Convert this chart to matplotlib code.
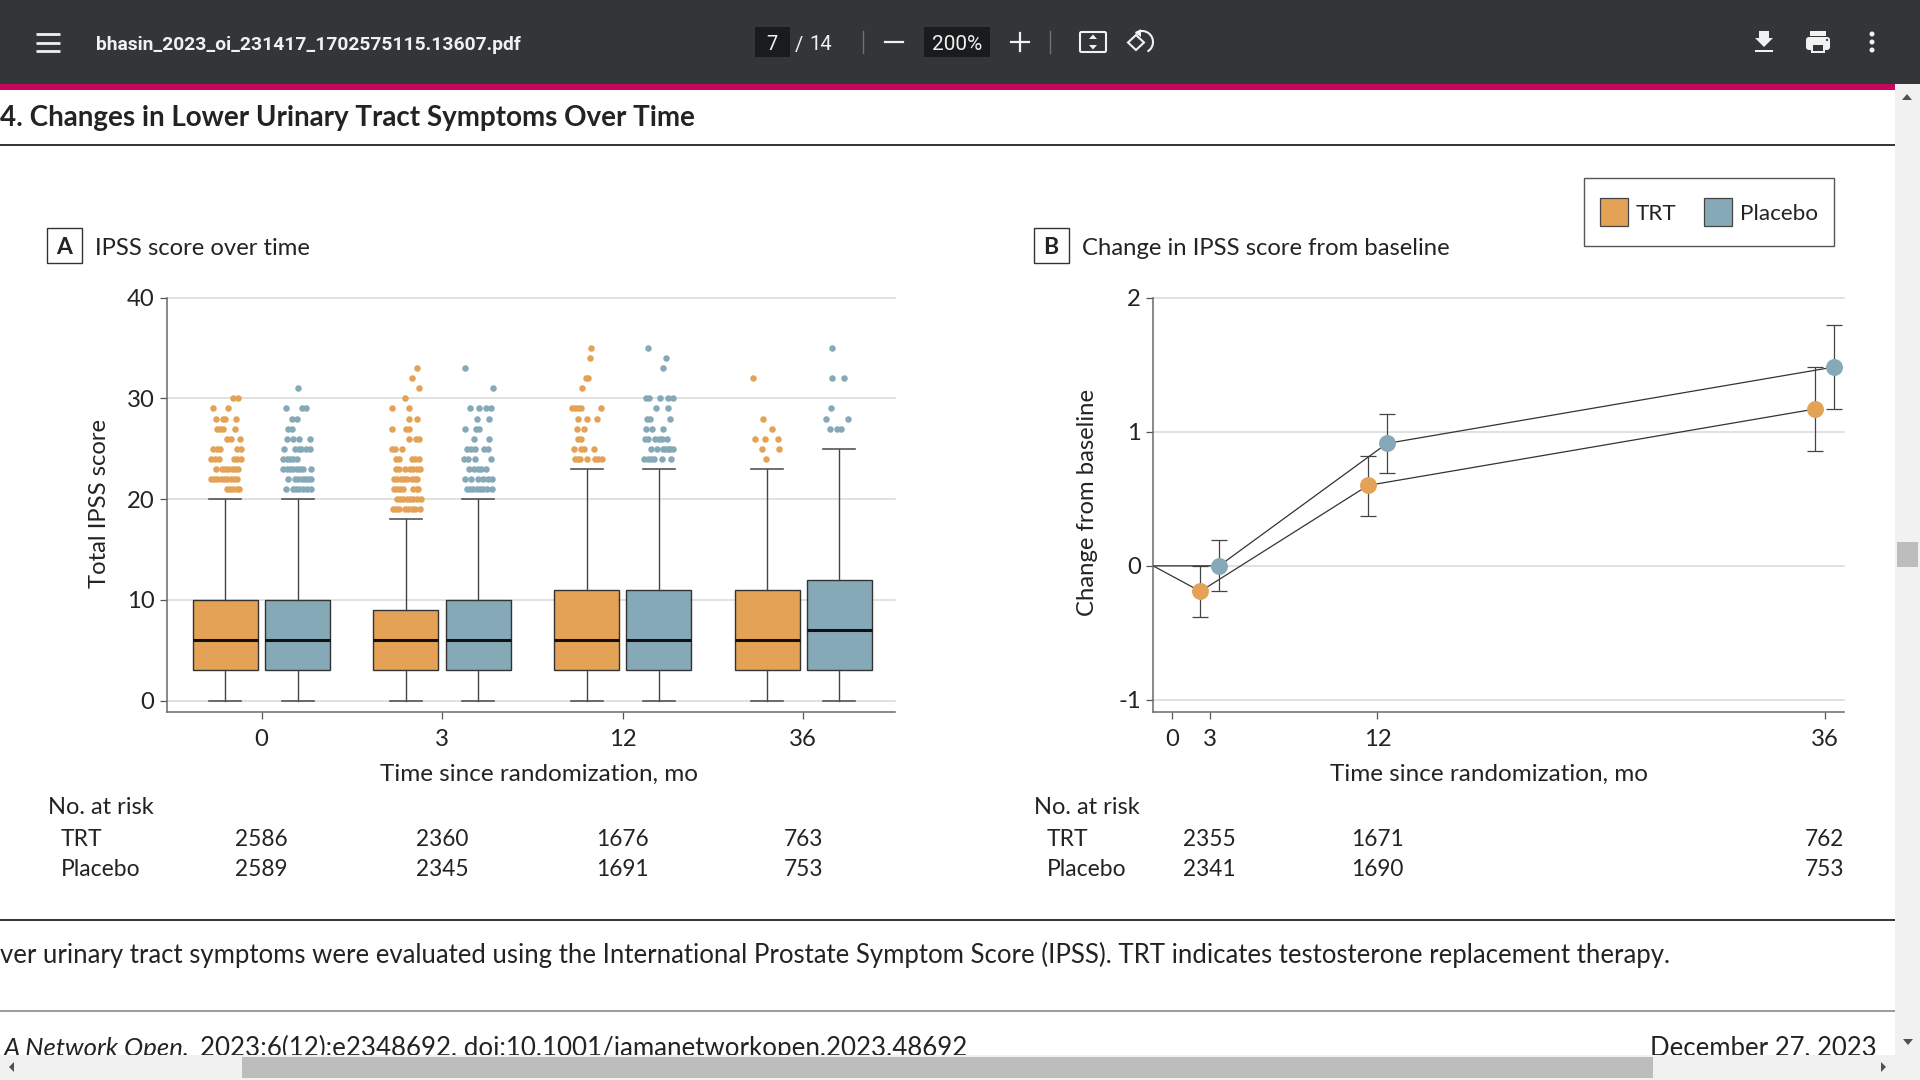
import matplotlib
matplotlib.use('Agg')
import matplotlib.pyplot as plt
from matplotlib.patches import Rectangle, Circle, Polygon, FancyBboxPatch, Arc
from matplotlib.transforms import blended_transform_factory

plt.rcParams['font.family'] = ['Lato', 'DejaVu Sans']
plt.rcParams['axes.unicode_minus'] = False

ORANGE = '#E3A255'
BLUE = '#86A9B8'
DARK = '#232323'
W, H = 1920, 1080

visits = ['0', '3', '12', '36']
groups = ['TRT', 'Placebo']

# q1, median, q3, low whisker, high whisker per visit
trt_box = [(3, 6, 10, 0, 20), (3, 6, 9, 0, 18), (3, 6, 11, 0, 23), (3, 6, 11, 0, 23)]
pbo_box = [(3, 6, 10, 0, 20), (3, 6, 10, 0, 20), (3, 6, 11, 0, 23), (3, 7, 12, 0, 25)]

# outliers: score -> sideways jitter (in 1/542 of a visit slot)
trt_0 = {30: [22, 39], 29: [-36, 9], 28: [-27, -8, 0, 33], 27: [-24, -16, -8, 29], 26: [4, 18, 44],
         25: [-36, -26, -16, 34, 46], 24: [-42, -32, -18, 26, 36, 46],
         23: [-28, -11, -1, 9, 19, 29, 39], 22: [-44, -34, -24, -14, -4, 6, 16, 26, 36],
         21: [4, 14, 24, 34, 42]}
pbo_0 = {31: [1], 29: [-35, 12, 25], 28: [-17, -1], 27: [-29, -18], 26: [-32, -13, 4, 38],
         25: [-41, -7, 3, 11, 25, 37], 24: [-43, -33, -23, -13, -1],
         23: [-43, -33, -23, -13, -3, 7, 17, 39], 22: [-29, -8, 2, 12, 22, 32, 40],
         21: [-36, -15, -5, 5, 17, 27, 39]}
trt_3 = {33: [32], 32: [18], 31: [38], 30: [-2], 29: [-41, 9], 28: [10, 34], 27: [-41, 0, 10],
         26: [10, 30, 40], 25: [-43, -33, -13], 24: [-30, -22, 17, 27, 38],
         23: [-30, -20, -3, 12, 22, 32, 42], 22: [-36, -26, -16, -6, 4, 17, 27, 34],
         21: [-36, -26, -18, -8, 22, 32, 37], 20: [-28, -18, -8, 2, 12, 22, 32, 45],
         19: [-40, -30, -20, -3, 7, 17, 27, 42]}
pbo_3 = {33: [-40], 31: [43], 29: [-25, 3, 23, 37], 28: [-3, 31], 27: [-40, -7, 3], 26: [-13, 31],
         25: [-35, -23, -10, 18, 30], 24: [-42, -32, -11, 39], 23: [-27, -12, -2, 8, 23],
         22: [-39, -23, -2, 15, 28, 40], 21: [-35, -25, -15, -5, 5, 15, 25, 40]}
trt_12 = {35: [14], 34: [10], 32: [-2, 5], 31: [-13], 29: [-43, -34, -27, -18, 44], 28: [-27, 1, 32],
          27: [-30, -8], 26: [-26, -17], 25: [-37, -16, -8, 22],
          24: [-36, -27, -21, 0, 26, 34, 45]}
pbo_12 = {35: [-31], 34: [22], 33: [12], 30: [-39, -28, 4, 28, 44], 29: [-9, 28], 28: [-35, -25, 35],
          27: [-37, -19, 13], 26: [-42, -32, -11, 1, 9, 25], 25: [-24, -5, 12, 20, 28, 34, 42],
          24: [-43, -33, -23, -13, 9, 36]}
trt_36 = {32: [-42], 28: [-11], 27: [16], 26: [-36, -6, 33], 25: [-14, 36], 24: [-4]}
pbo_36 = {35: [-21], 32: [-23, 14], 29: [-25], 28: [-41, 27], 27: [-28, -6, 4]}
trt_fliers = [trt_0, trt_3, trt_12, trt_36]
pbo_fliers = [pbo_0, pbo_3, pbo_12, pbo_36]

risk_a_trt = ['2586', '2360', '1676', '763']
risk_a_pbo = ['2589', '2345', '1691', '753']

# panel B, model estimates with 95% CI
# the printed axis is not to scale: 3/12/36 sit where 2/11/35 would be
month_labels = ['3', '12', '36']
month_pos = [2, 11, 35]
trt_change = [-0.19, 0.60, 1.17]
trt_low = [-0.385, 0.375, 0.855]
trt_high = [0.0, 0.82, 1.48]
pbo_change = [0.0, 0.913, 1.483]
pbo_low = [-0.19, 0.692, 1.167]
pbo_high = [0.19, 1.134, 1.80]
baseline_pos = -1.04
baseline_change = 0.0

risk_b_trt = ['2355', '1671', '762']
risk_b_pbo = ['2341', '1690', '753']


def add_axes_px(fig, left, top, right, bottom):
    return fig.add_axes([left / W, 1 - bottom / H, (right - left) / W, (bottom - top) / H])


def style_axes(ax):
    ax.patch.set_alpha(0)
    for side in ['top', 'right']:
        ax.spines[side].set_visible(False)
    for side in ['left', 'bottom']:
        ax.spines[side].set_color('#6a6a6a')
        ax.spines[side].set_linewidth(1.1)
    ax.grid(axis='y', color='#dcdcdc', lw=1.2, zorder=0)
    for line in ax.get_ygridlines():
        line.set_clip_on(False)
    ax.set_axisbelow(True)
    ax.tick_params(length=5.2, width=0.9, color='#555555', labelsize=17.2, labelcolor=DARK)
    ax.tick_params(axis='x', pad=7)
    ax.tick_params(axis='y', pad=3.5)


def draw_box_panel(ax):
    slots = range(len(visits))
    for stats, fliers, off, colour in [(trt_box, trt_fliers, -0.2, ORANGE), (pbo_box, pbo_fliers, 0.2, BLUE)]:
        rows = [dict(q1=b[0], med=b[1], q3=b[2], whislo=b[3], whishi=b[4]) for b in stats]
        ax.bxp(rows, positions=[s + off for s in slots], widths=0.36, capwidths=0.177, showfliers=False,
               patch_artist=True, manage_ticks=False,
               boxprops=dict(facecolor=colour, edgecolor='#333333', linewidth=1.0),
               whiskerprops=dict(color='#444444', linewidth=1.0),
               capprops=dict(color='#555555', linewidth=1.2),
               medianprops=dict(color='#111111', linewidth=2.2, solid_capstyle='butt'))
        for s, visit_fliers in zip(slots, fliers):
            xs = []
            ys = []
            for score, jitter in visit_fliers.items():
                xs += [s + off + j / 542 for j in jitter]
                ys += [score] * len(jitter)
            ax.scatter(xs, ys, s=22, color=colour, linewidths=0, zorder=3)
    ax.set_xlim(-0.525, 3.508)
    ax.set_ylim(-1.12, 40)
    ax.set_yticks([0, 10, 20, 30, 40])
    ax.set_xticks(list(slots))
    ax.set_xticklabels(visits)


def draw_change_panel(ax):
    for change, low, high, off, colour in [(trt_change, trt_low, trt_high, -0.505, ORANGE),
                                           (pbo_change, pbo_low, pbo_high, 0.505, BLUE)]:
        xs = [m + off for m in month_pos]
        ax.plot([baseline_pos] + xs, [baseline_change] + change, color='#333333', lw=0.9, zorder=2)
        yerr = [[c - l for c, l in zip(change, low)], [h - c for c, h in zip(change, high)]]
        ax.errorbar(xs, change, yerr=yerr, fmt='none', ecolor='#444444', elinewidth=0.9, capsize=6,
                    capthick=0.9, zorder=2)
        ax.plot(xs, change, 'o', ms=12.2, color=colour, mew=0, zorder=3)
    ax.set_xlim(-1.046, 36.05)
    ax.set_ylim(-1.09, 2)
    ax.set_yticks([-1, 0, 1, 2])
    ax.set_xticks([0] + month_pos)
    ax.set_xticklabels(['0'] + month_labels)


def panel_label(page, x0, letter, title):
    page.add_patch(Rectangle((x0, 228), 35, 35, fc='white', ec='#333333', lw=1.0))
    page.text(x0 + 17.5, 247, letter, ha='center', va='center', fontsize=16.5, fontweight='bold', color=DARK)
    page.text(x0 + 48, 248.5, title, ha='left', va='center', fontsize=17.2, color=DARK)


def risk_table(page, ax, x0, rows):
    page.text(x0, 807, 'No. at risk', ha='left', va='center', fontsize=17, color=DARK)
    trans = blended_transform_factory(ax.transData, page.transData)
    for label, y, xs, counts in rows:
        page.text(x0 + 13, y, label, ha='left', va='center', fontsize=16.5, color=DARK)
        for x, n in zip(xs, counts):
            ax.text(x, y, n, transform=trans, ha='center', va='center', fontsize=16.3, color=DARK, clip_on=False)


def draw_viewer_chrome(page):
    bar = '#323639'
    white = '#f1f1f1'
    page.add_patch(Rectangle((0, 0), W, 84, fc=bar, ec='none'))
    page.add_patch(Rectangle((0, 84), 1895, 6, fc='#c4065f', ec='none'))
    page.add_patch(Rectangle((1895, 84), 25, 996, fc='#f1f1f1', ec='none', zorder=5))
    page.add_patch(Rectangle((1897, 542), 21, 25, fc='#bdbdbd', ec='none', zorder=6))
    page.add_patch(Polygon([(1902, 100), (1912, 100), (1907, 94)], fc='#505050', ec='none', zorder=6))
    page.add_patch(Polygon([(1903, 1039), (1913, 1039), (1908, 1045)], fc='#505050', ec='none', zorder=6))
    page.add_patch(Rectangle((0, 1055), 1895, 25, fc='#f1f1f1', ec='none', zorder=5))
    page.add_patch(Rectangle((242, 1057), 1411, 21, fc='#bdbdbd', ec='none', zorder=6))
    page.add_patch(Polygon([(14, 1062), (14, 1072), (9, 1067)], fc='#505050', ec='none', zorder=6))
    page.add_patch(Polygon([(1881, 1062), (1881, 1072), (1886, 1067)], fc='#505050', ec='none', zorder=6))

    # left side of the toolbar
    for y in [34, 42.5, 51]:
        page.plot([36, 60], [y, y], color=white, lw=2.0, solid_capstyle='butt')
    page.text(96, 45, 'bhasin_2023_oi_231417_1702575115.13607.pdf', ha='left', va='center',
              fontsize=13.9, family='Roboto', fontweight='bold', color=white)

    # page and zoom controls
    page.add_patch(Rectangle((755, 27), 35, 30, fc='#191b1c', ec='none'))
    page.text(772, 44, '7', ha='center', va='center', fontsize=14.5, family='Roboto', color=white)
    page.text(799, 45, '/', ha='center', va='center', fontsize=14.5, family='Roboto', color=white)
    page.text(821, 45, '14', ha='center', va='center', fontsize=14.5, family='Roboto', color=white)
    page.plot([863, 863], [31, 53], color='#6f7274', lw=1.0)
    page.plot([885, 903], [42, 42], color=white, lw=1.6)
    page.add_patch(Rectangle((924, 27), 66, 30, fc='#191b1c', ec='none'))
    page.text(957, 44, '200%', ha='center', va='center', fontsize=15, family='Roboto', color=white)
    page.plot([1011, 1029], [42, 42], color=white, lw=1.6)
    page.plot([1020, 1020], [33, 51], color=white, lw=1.6)
    page.plot([1050, 1050], [31, 53], color='#6f7274', lw=1.0)

    # fit to page
    page.add_patch(FancyBboxPatch((1080, 32), 26, 20, boxstyle='round,pad=0,rounding_size=1.5',
                                  fc='none', ec=white, lw=1.5))
    page.add_patch(Polygon([(1089, 39), (1097, 39), (1093, 34.5)], fc=white, ec='none'))
    page.add_patch(Polygon([(1089, 45), (1097, 45), (1093, 49.5)], fc=white, ec='none'))

    # rotate
    page.add_patch(Polygon([(1128, 42.5), (1136, 35), (1144, 42.5), (1136, 50)], fc='none', ec=white, lw=1.5))
    page.add_patch(Arc((1142, 42), 22, 22, theta1=-125, theta2=60, ec=white, lw=1.5))
    page.add_patch(Polygon([(1141, 29), (1141, 37), (1135, 33)], fc=white, ec='none'))

    # download
    page.add_patch(Polygon([(1759, 31), (1769, 31), (1769, 38), (1773, 38), (1764, 47), (1755, 38), (1759, 38)],
                           fc=white, ec='none'))
    page.add_patch(Rectangle((1755, 49.5), 18, 2.5, fc=white, ec='none'))

    # print
    page.add_patch(Rectangle((1810, 31), 16, 5, fc=white, ec='none'))
    page.add_patch(FancyBboxPatch((1806, 37), 24, 13, boxstyle='round,pad=0,rounding_size=3', fc=white, ec='none'))
    page.add_patch(Rectangle((1811, 44), 14, 9, fc=white, ec='none'))
    page.add_patch(Rectangle((1813, 45), 10, 6, fc=bar, ec='none'))
    page.add_patch(Circle((1827, 40), 1.1, fc=bar, ec='none'))

    # menu dots
    for y in [34, 42, 50]:
        page.add_patch(Circle((1872, y), 2.5, fc=white, ec='none'))


if __name__ == "__main__":
    fig = plt.figure(figsize=(W / 100, H / 100), dpi=100, facecolor='white')
    page = fig.add_axes([0, 0, 1, 1])
    page.set_xlim(0, W)
    page.set_ylim(H, 0)
    page.axis('off')

    draw_viewer_chrome(page)

    page.text(0, 118, '4. Changes in Lower Urinary Tract Symptoms Over Time', ha='left', va='center',
              fontsize=20, fontweight='bold', color=DARK)
    page.plot([0, 1895], [145, 145], color='#333333', lw=1.4, solid_capstyle='butt')
    page.plot([0, 1895], [919.5, 919.5], color='#333333', lw=1.4, solid_capstyle='butt')
    page.plot([0, 1895], [1010.5, 1010.5], color='#8a8a8a', lw=1.2, solid_capstyle='butt')

    panel_label(page, 47, 'A', 'IPSS score over time')
    panel_label(page, 1033.5, 'B', 'Change in IPSS score from baseline')

    # legend box
    page.add_patch(Rectangle((1583.5, 178), 751 / 3, 68, fc='white', ec='#555555', lw=1.0))
    page.add_patch(Rectangle((1599.5, 197.5), 28, 28, fc=ORANGE, ec='#444444', lw=0.9))
    page.text(1636, 214, groups[0], ha='left', va='center', fontsize=16.2, color=DARK)
    page.add_patch(Rectangle((1703.5, 197.5), 28, 28, fc=BLUE, ec='#444444', lw=0.9))
    page.text(1740, 214, groups[1], ha='left', va='center', fontsize=16.2, color=DARK)

    ax_a = add_axes_px(fig, 166.7, 297.6, 895, 712)
    style_axes(ax_a)
    draw_box_panel(ax_a)
    page.text(99, 503, 'Total IPSS score', rotation=90, ha='center', va='center', fontsize=17.2, color=DARK)
    page.text(539, 774, 'Time since randomization, mo', ha='center', va='center', fontsize=17.5, color=DARK)
    slots = list(range(len(visits)))
    risk_table(page, ax_a, 48, [(groups[0], 840, slots, risk_a_trt), (groups[1], 870, slots, risk_a_pbo)])

    ax_b = add_axes_px(fig, 1153, 297.7, 1844.3, 712)
    style_axes(ax_b)
    draw_change_panel(ax_b)
    page.text(1087.5, 503, 'Change from baseline', rotation=90, ha='center', va='center', fontsize=17.2, color=DARK)
    page.text(1489, 774, 'Time since randomization, mo', ha='center', va='center', fontsize=17.5, color=DARK)
    risk_table(page, ax_b, 1034, [(groups[0], 840, month_pos, risk_b_trt), (groups[1], 870, month_pos, risk_b_pbo)])

    page.text(0, 955, 'ver urinary tract symptoms were evaluated using the International Prostate Symptom Score '
              '(IPSS). TRT indicates testosterone replacement therapy.', ha='left', va='center',
              fontsize=18.55, color=DARK)
    page.text(190, 1048, 'A Network Open.', ha='right', va='center', fontsize=18.5, style='italic', color=DARK)
    page.text(199.6, 1048, '2023;6(12):e2348692. doi:10.1001/jamanetworkopen.2023.48692', ha='left', va='center',
              fontsize=18.6, color=DARK)
    page.text(1877, 1048, 'December 27, 2023', ha='right', va='center', fontsize=18.5, color=DARK)

    fig.savefig('out.png', dpi=100)
